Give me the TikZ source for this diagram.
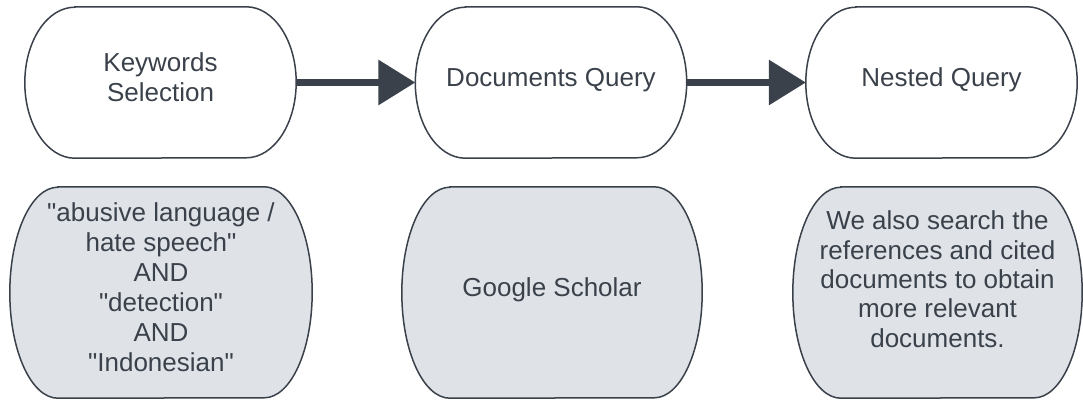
\documentclass[tikz,border=0pt]{standalone}
\usepackage{fontspec}
\setmainfont{Liberation Sans}[Ligatures=TeXOff]
\usetikzlibrary{arrows.meta,backgrounds}
\definecolor{ink}{HTML}{3A414A}
\definecolor{panel}{HTML}{DFE3E8}
\tikzset{
  stage/.style={minimum width=271pt, minimum height=151pt, inner sep=0pt,
    text=ink, align=center, font=\fontsize{26}{30}\selectfont, text depth=10pt},
  note/.style={stage, minimum height=211pt},
  outline/.style={draw=ink, line width=1.5pt},
  shaded/.style={outline, fill=panel},
  flow/.style={draw=ink, line width=6.5pt, -{Triangle[length=37pt,width=44pt]}},
}
% capsule outline round a node: straight top and bottom, half-ellipse sides
% #1 node, #2 side radius, #3 half height, #4 path style
\newcommand\capsule[4]{%
  \path[#4] ([xshift=#2]#1.north west) -- ([xshift=-#2]#1.north east)
    arc[start angle=90,end angle=-90,x radius=#2,y radius=#3]
    -- ([xshift=#2]#1.south west)
    arc[start angle=270,end angle=90,x radius=#2,y radius=#3] -- cycle;}
\begin{document}
\begin{tikzpicture}[x=1pt,y=1pt]
\useasboundingbox (0,0) rectangle (1083,400);

% process steps
\node[stage] (kw)  at (160.5,317.5) {Keywords\\Selection};
\node[stage] (dq)  at (551,317.5)   {Documents Query};
\node[stage] (nq)  at (941.5,317.5) {Nested Query};

% details under each step
\node[note, minimum width=302pt] (kwd) at (161,107.5)
  {"abusive language /\\hate speech"\\AND\\"detection"\\AND\\"Indonesian"};
\node[note, minimum width=300pt] (dqd) at (552,107.5) {Google Scholar};
\node[note, minimum width=289pt, text depth=27pt,
      font=\fontsize{26}{29.3}\selectfont] (nqd) at (937.5,107.5)
  {We also search the\\references and cited\\documents to obtain\\more relevant\\documents.};

\begin{scope}[on background layer]
  \capsule{kw}{50}{75.5}{outline}
  \capsule{dq}{50}{75.5}{outline}
  \capsule{nq}{50}{75.5}{outline}
  \capsule{kwd}{48}{105.5}{shaded}
  \capsule{dqd}{48}{105.5}{shaded}
  \capsule{nqd}{48}{105.5}{shaded}
\end{scope}

% flow between steps
\draw[flow] (kw) -- (dq);
\draw[flow] (dq) -- (nq);
\end{tikzpicture}
\end{document}
